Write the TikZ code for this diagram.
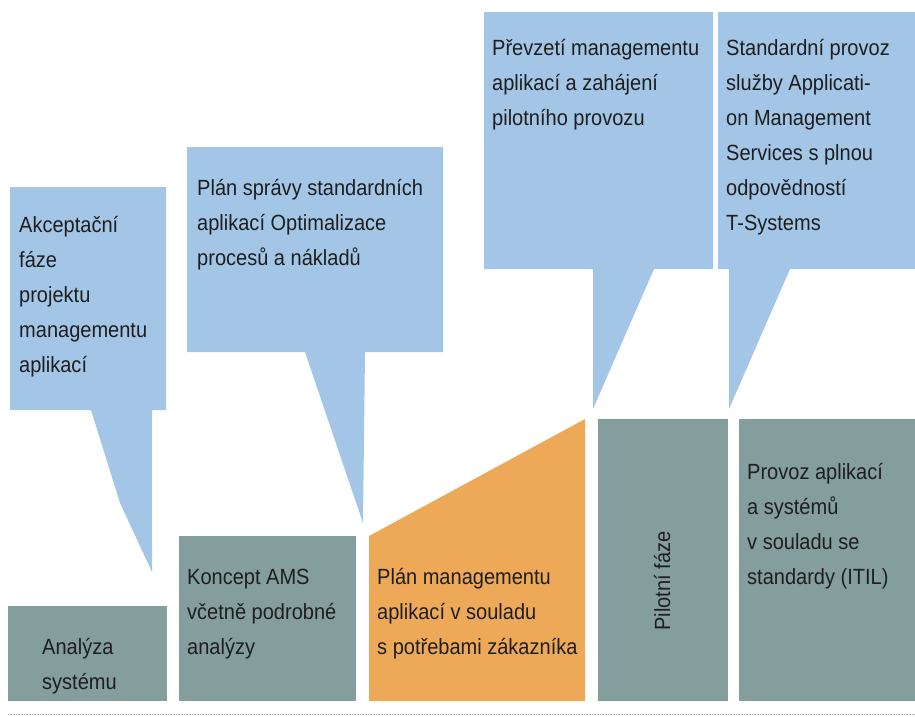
\documentclass[tikz,border=0pt]{standalone}
\usepackage{fontspec}
\setmainfont{Liberation Sans}[FakeStretch=0.91]
\usepackage{tikz}

\definecolor{callblue}{HTML}{A3C6E7}
\definecolor{phasegrey}{HTML}{849E9D}
\definecolor{planorange}{HTML}{EDA958}
\definecolor{textdark}{HTML}{1E1E1E}

\begin{document}
\begin{tikzpicture}[x=1pt, y=-1pt,
  every node/.style = {inner sep=0pt, anchor=base west, align=left, text=textdark,
                       font=\fontsize{22}{35}\selectfont},
  callout/.style = {fill=callblue},
  phase/.style = {fill=phasegrey},
  plan/.style = {fill=planorange}]
  \useasboundingbox (0,0) rectangle (915,716);

  % speech bubbles
  \fill[callout] (10,187) -- (166,187) -- (166,410) -- (152,410) -- (152,572) -- (120,503) -- (91,410) -- (10,410) -- cycle;
  \fill[callout] (187,147) -- (443,147) -- (443,352) -- (365,352) -- (363,523) -- (305,352) -- (187,352) -- cycle;
  \fill[callout] (484,12) -- (713,12) -- (713,269) -- (654,269) -- (593,409) -- (593,269) -- (484,269) -- cycle;
  \fill[callout] (718,12) -- (915,12) -- (915,269) -- (790,269) -- (729,409) -- (729,269) -- (718,269) -- cycle;

  % phases
  \fill[phase] (8,606) rectangle (167,701);
  \fill[phase] (179,536) rectangle (356,701);
  \fill[plan] (369,536) -- (585,419) -- (585,701) -- (369,701) -- cycle;
  \fill[phase] (598,419) rectangle (728,701);
  \fill[phase] (739,419) rectangle (915,701);

  \draw[gray!70, line width=0.8pt, dash pattern=on 0.8pt off 0.8pt] (8,714) -- (915,714);

  % texts, placed at the baseline of their last line
  \node (akcept) at (19,372) {Akceptační\\fáze\\projektu\\managementu\\aplikací};
  \node (sprava) at (197,265) {Plán správy standardních\\aplikací Optimalizace\\procesů a nákladů};
  \node (prevzeti) at (492,125) {Převzetí managementu\\aplikací a zahájení\\pilotního provozu};
  \node (standard) at (726,230) {Standardní provoz\\služby Applicati-\\on Management\\Services s plnou\\odpovědností\\T-Systems};

  \node (analyza) at (42,689) {Analýza\\systému};
  \node (koncept) at (187,654) {Koncept AMS\\včetně podrobné\\analýzy};
  \node (planam) at (377,654) {Plán managementu\\aplikací v souladu\\s potřebami zákazníka};
  \node (pilot) [anchor=center, rotate=90] at (662,581) {Pilotní fáze};
  \node (provoz) at (747,584) {Provoz aplikací\\a systémů\\v souladu se\\standardy (ITIL)};
\end{tikzpicture}
\end{document}
